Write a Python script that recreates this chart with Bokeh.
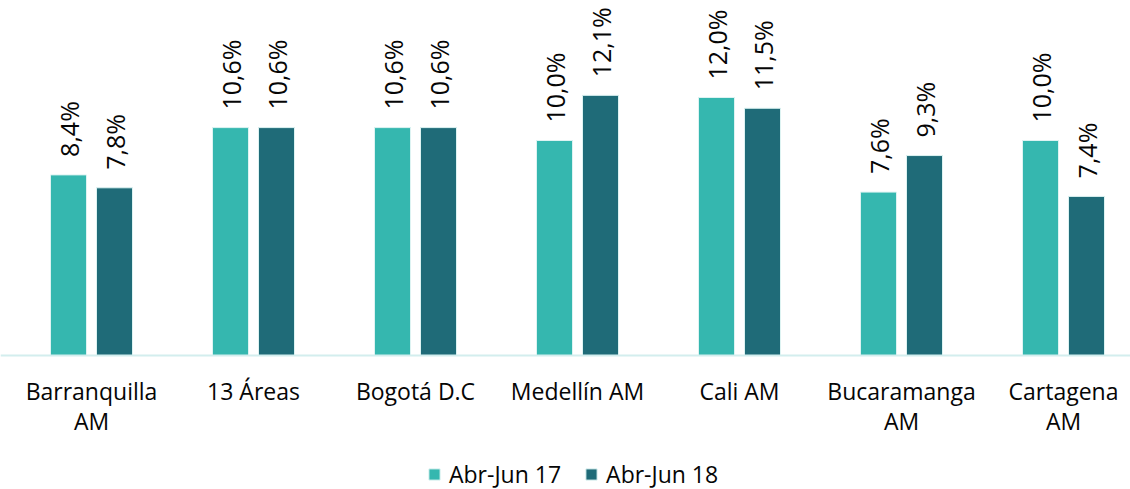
import math
from bokeh.plotting import figure
from bokeh.models import ColumnDataSource, Range1d, Span, Legend, LegendItem
from bokeh.core.properties import value
from bokeh.embed import file_html
from bokeh.resources import INLINE

# ---- data ----
categories_line1 = ["Barranquilla", "13 Áreas", "Bogotá D.C", "Medellín AM", "Cali AM", "Bucaramanga", "Cartagena"]
categories_line2 = ["AM", "", "", "", "", "AM", "AM"]
series_names = ["Abr-Jun 17", "Abr-Jun 18"]
abr_jun_17 = [8.4, 10.6, 10.6, 10.0, 12.0, 7.6, 10.0]
abr_jun_18 = [7.8, 10.6, 10.6, 12.1, 11.5, 9.3, 7.4]

# ---- style ----
C17 = "#35B7AF"
C18 = "#1F6B78"
FONT = "Open Sans"
FS = "23px"
FS_VAL = "25px"
TXT = "#050505"

W, H = 1130, 489
band_px = 162.0           # pixels per category
first_center_px = 91.0    # center of first category from frame left
y_px_per_unit = 21.5
base_px = 355.0           # baseline from frame top

x0 = -first_center_px / band_px
x1 = x0 + W / band_px
ytop = base_px / y_px_per_unit
ybot = -(H - base_px) / y_px_per_unit

n = len(abr_jun_17)
xs = list(range(n))
off = 23.0 / band_px
bw = 36.0 / band_px

def fmt(v):
    return f"{v:.1f}".replace(".", ",") + "%"

src17 = ColumnDataSource(dict(x=[i - off for i in xs], top=abr_jun_17, lab=[fmt(v) for v in abr_jun_17]))
src18 = ColumnDataSource(dict(x=[i + off for i in xs], top=abr_jun_18, lab=[fmt(v) for v in abr_jun_18]))
srccat = ColumnDataSource(dict(x=xs, y=[0] * n, l1=categories_line1, l2=categories_line2))

p = figure(width=W, height=H, output_backend="svg", toolbar_location=None,
           x_range=Range1d(x0, x1), y_range=Range1d(ybot, ytop),
           x_axis_type=None, y_axis_type=None,
           min_border=0, min_border_left=0, min_border_right=0,
           min_border_top=0, min_border_bottom=0)
p.grid.visible = False
p.outline_line_color = None
p.background_fill_color = "white"
p.border_fill_color = "white"

r17 = p.vbar(x="x", top="top", bottom=0, width=bw, source=src17,
             fill_color=C17, line_color="#DDF3F2", line_width=1)
r18 = p.vbar(x="x", top="top", bottom=0, width=bw, source=src18,
             fill_color=C18, line_color="#DDF3F2", line_width=1)

p.add_layout(Span(location=0, dimension="width", line_color="#D3EEEE", line_width=2))

for s in (src17, src18):
    p.text(x="x", y="top", text="lab", source=s, angle=math.pi / 2,
           text_align="left", text_baseline="middle", y_offset=-18,
           text_font=value(FONT), text_font_size=FS_VAL, text_color=TXT)

p.text(x="x", y="y", text="l1", source=srccat, text_align="center",
       text_baseline="middle", y_offset=35,
       text_font=value(FONT), text_font_size=FS, text_color=TXT)
p.text(x="x", y="y", text="l2", source=srccat, text_align="center",
       text_baseline="middle", y_offset=65,
       text_font=value(FONT), text_font_size=FS, text_color=TXT)

legend = Legend(items=[LegendItem(label=series_names[0], renderers=[r17]),
                       LegendItem(label=series_names[1], renderers=[r18])],
                orientation="horizontal", location=(427, -1),
                padding=0, margin=0, spacing=23, label_standoff=8,
                glyph_width=14, glyph_height=14,
                label_text_font=FONT, label_text_font_size=FS,
                label_text_color=TXT, border_line_color=None,
                background_fill_alpha=0)
p.add_layout(legend)

open("out.html", "w").write(file_html(p, INLINE))
